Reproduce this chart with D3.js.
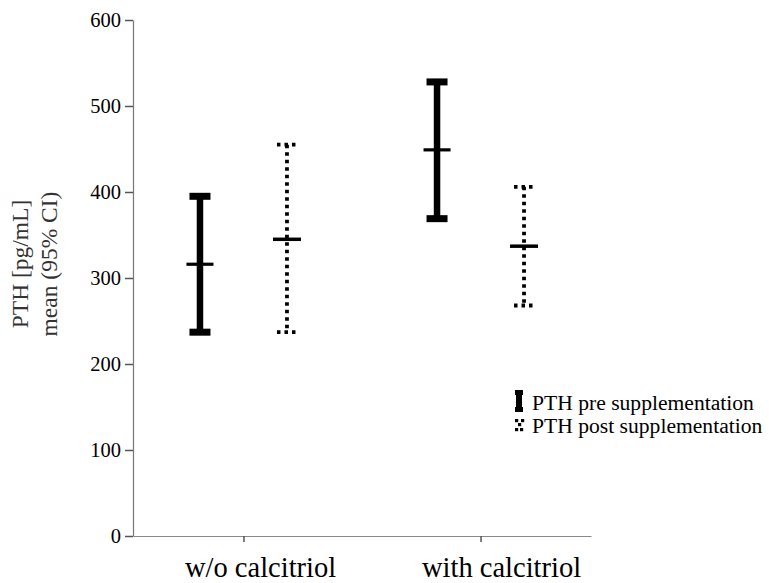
<!DOCTYPE html>
<html>
<head>
<meta charset="utf-8">
<script src="https://cdn.jsdelivr.net/npm/d3@7"></script>
<style>
  html, body { margin: 0; padding: 0; background: #fff; }
  svg { display: block; }
  svg text { font-family: "Liberation Serif", "Times New Roman", serif !important; }
</style>
</head>
<body>
<svg id="chart" width="769" height="583"></svg>
<script>
// ---- data ----
const categories = ["w/o calcitriol", "with calcitriol"];
const seriesNames = ["PTH pre supplementation", "PTH post supplementation"];
const preMean = [316, 449];
const preLow  = [237, 369];
const preHigh = [395, 528];
const postMean = [345, 337];
const postLow  = [237, 268];
const postHigh = [455, 406];
const yTicks = [0, 100, 200, 300, 400, 500, 600];
const yLabelLines = ["PTH [pg/mL]", "mean (95% CI)"];

const seriesData = [
  { name: seriesNames[0], mean: preMean, low: preLow, high: preHigh, dotted: false },
  { name: seriesNames[1], mean: postMean, low: postLow, high: postHigh, dotted: true }
];

// ---- layout ----
const svg = d3.select("#chart");
const x0 = 133, x1 = 591, yTop = 20, yBot = 536;

const y = d3.scaleLinear().domain([0, 600]).range([yBot, yTop]);
const x = d3.scalePoint().domain(categories).range([x0, x1]).padding(0.466);
const xs = d3.scalePoint().domain(seriesNames).range([-43.5, 43.5]);

// y axis
const gy = svg.append("g")
  .attr("transform", `translate(${x0},0)`)
  .call(d3.axisLeft(y).tickValues(yTicks).tickSize(8).tickSizeOuter(0).tickPadding(4));
gy.select(".domain").attr("stroke", "#777").attr("stroke-width", 1.2);
gy.selectAll(".tick line").attr("stroke", "#555").attr("stroke-width", 1.5);
gy.selectAll(".tick text").style("font-size", "20.5px").attr("fill", "#000");

// x axis
const gx = svg.append("g")
  .attr("transform", `translate(0,${yBot})`)
  .call(d3.axisBottom(x).tickSize(6).tickSizeOuter(0));
gx.select(".domain").attr("stroke", "#888").attr("stroke-width", 1.2);
gx.selectAll(".tick line").attr("stroke", "#555").attr("stroke-width", 1.5);
gx.selectAll(".tick text")
  .style("font-size", "28.5px").attr("fill", "#000")
  .attr("text-anchor", "start").attr("x", -59).attr("y", 41).attr("dy", 0);

// y label
const yl = svg.append("g").style("font-size", "23.5px").attr("fill", "#333");
const yLabelX = [28, 57];
yLabelLines.forEach((t, i) => {
  yl.append("text")
    .attr("transform", `translate(${yLabelX[i]},264) rotate(-90)`)
    .attr("text-anchor", "middle")
    .text(t);
});

// error bars
const dash = "3.5 4";
seriesData.forEach(s => {
  const g = svg.append("g");
  categories.forEach((c, i) => {
    const cx = x(c) + xs(s.name);
    if (!s.dotted) {
      g.append("line").attr("x1", cx).attr("x2", cx)
        .attr("y1", y(s.high[i])).attr("y2", y(s.low[i]))
        .attr("stroke", "#000").attr("stroke-width", 6.5);
      [s.high[i], s.low[i]].forEach(v => {
        g.append("line").attr("x1", cx - 10.5).attr("x2", cx + 10.5)
          .attr("y1", y(v)).attr("y2", y(v))
          .attr("stroke", "#000").attr("stroke-width", 7);
      });
      g.append("line").attr("x1", cx - 13.5).attr("x2", cx + 13.5)
        .attr("y1", y(s.mean[i])).attr("y2", y(s.mean[i]))
        .attr("stroke", "#000").attr("stroke-width", 3.2);
    } else {
      g.append("line").attr("x1", cx).attr("x2", cx)
        .attr("y1", y(s.high[i])).attr("y2", y(s.low[i]))
        .attr("stroke", "#000").attr("stroke-width", 3.8)
        .attr("stroke-dasharray", dash);
      [s.high[i], s.low[i]].forEach(v => {
        g.append("line").attr("x1", cx - 10).attr("x2", cx + 10)
          .attr("y1", y(v)).attr("y2", y(v))
          .attr("stroke", "#000").attr("stroke-width", 3.8)
          .attr("stroke-dasharray", dash);
      });
      g.append("line").attr("x1", cx - 14).attr("x2", cx + 14)
        .attr("y1", y(s.mean[i])).attr("y2", y(s.mean[i]))
        .attr("stroke", "#000").attr("stroke-width", 3.5);
    }
  });
});

// legend
const lg = svg.append("g").style("font-size", "21.6px").attr("fill", "#000");
const legendY = [410, 433];
seriesData.forEach((s, i) => {
  const by = legendY[i];
  const ic = lg.append("g");
  if (!s.dotted) {
    ic.append("rect").attr("x", 515).attr("y", by - 20).attr("width", 8).attr("height", 5).attr("fill", "#000");
    ic.append("rect").attr("x", 516).attr("y", by - 16).attr("width", 6).attr("height", 14).attr("fill", "#000");
    ic.append("rect").attr("x", 515).attr("y", by - 3).attr("width", 8).attr("height", 5).attr("fill", "#000");
  } else {
    const pts = [[515, by - 14], [521, by - 14], [518, by - 10], [515, by - 5], [520, by - 5]];
    pts.forEach(p => ic.append("rect").attr("x", p[0]).attr("y", p[1]).attr("width", 3.2).attr("height", 3.2).attr("fill", "#000"));
  }
  lg.append("text").attr("x", 532).attr("y", by).text(s.name);
});
</script>
</body>
</html>
